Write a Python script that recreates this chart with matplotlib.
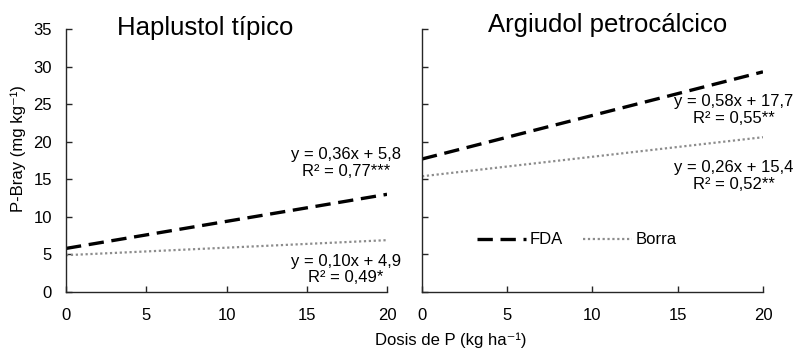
import numpy as np
import matplotlib
matplotlib.use('Agg')
import matplotlib.pyplot as plt

# datos de las regresiones (pendiente, ordenada)
dosis = [0, 20]
paneles = ['Haplustol típico', 'Argiudol petrocálcico']
fda_coef = [(0.36, 5.8), (0.58, 17.7)]
borra_coef = [(0.10, 4.9), (0.26, 15.4)]
fda_eq = [('y = 0,36x + 5,8', 'R² = 0,77***'), ('y = 0,58x + 17,7', 'R² = 0,55**')]
borra_eq = [('y = 0,10x + 4,9', 'R² = 0,49*'), ('y = 0,26x + 15,4', 'R² = 0,52**')]
x_ticks = [0, 5, 10, 15, 20]
y_ticks = [0, 5, 10, 15, 20, 25, 30, 35]

plt.rcParams['font.family'] = ['Liberation Sans', 'DejaVu Sans']

fig = plt.figure(figsize=(7.97, 3.49), dpi=100)
ax1 = fig.add_axes([0.0828, 0.1633, 0.4028, 0.7536])
ax2 = fig.add_axes([0.5295, 0.1633, 0.4278, 0.7536])

# posiciones de textos (coordenadas de datos)
fda_txt_pos = [(17.45, 17.2), (18.3, 24.2)]
borra_txt_pos = [(17.45, 3.0), (18.3, 15.4)]
title_pos = [(0.257, 0.92), (0.762, 0.928)]  # coordenadas de figura

x = np.array(dosis, dtype=float)
for i, ax in enumerate([ax1, ax2]):
    a, b = fda_coef[i]
    ax.plot(x, a * x + b, color='black', lw=2.4, dashes=(4.6, 2.3), label='FDA')
    a, b = borra_coef[i]
    ax.plot(x, a * x + b, color='#8c8c8c', lw=1.6, dashes=(1, 1.2), label='Borra')

    ax.set_xlim(0, 20)
    ax.set_ylim(0, 35)
    ax.set_xticks(x_ticks)
    ax.set_yticks(y_ticks)
    for s in ['top', 'right']:
        ax.spines[s].set_visible(False)
    for s in ['left', 'bottom']:
        ax.spines[s].set_linewidth(1.0)
        ax.spines[s].set_color('#262626')
    ax.tick_params(direction='in', length=4, width=1, color='#262626',
                   labelsize=12, pad=10)
    ax.tick_params(axis='x', pad=11.5)

    fig.text(title_pos[i][0], title_pos[i][1], paneles[i], fontsize=18.5,
             ha='center', va='center')

    tx, ty = fda_txt_pos[i]
    ax.text(tx, ty, fda_eq[i][0] + '\n' + fda_eq[i][1], ha='center', va='center',
            fontsize=12, linespacing=1.15, clip_on=False)
    tx, ty = borra_txt_pos[i]
    ax.text(tx, ty, borra_eq[i][0] + '\n' + borra_eq[i][1], ha='center', va='center',
            fontsize=12, linespacing=1.15, clip_on=False)

ax2.tick_params(axis='y', labelleft=False)

fig.text(0.023, 0.573, 'P-Bray (mg kg⁻¹)', rotation=90, ha='center', va='center',
         fontsize=12)

leg = ax2.legend(loc='center', bbox_to_anchor=(0.455, 0.198), ncol=2, frameon=False,
                 fontsize=12, handlelength=2.9, handletextpad=0.25, columnspacing=1.2)

fig.text(0.565, 0.012, 'Dosis de P (kg ha⁻¹)', ha='center', va='baseline', fontsize=12)

fig.savefig('out.png', dpi=100)
